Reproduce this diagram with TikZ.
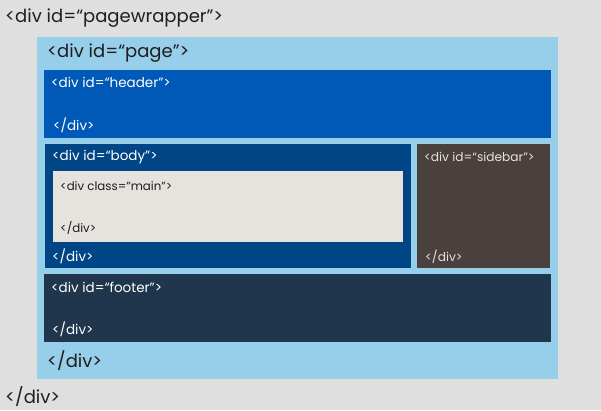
\documentclass[tikz,border=0pt]{standalone}
\usepackage{fontspec}
\setmainfont{Poppins}
\definecolor{bgc}{HTML}{DFDFDF}
\definecolor{pagec}{HTML}{97CFEA}
\definecolor{headc}{HTML}{0059B7}
\definecolor{bodyc}{HTML}{004586}
\definecolor{mainc}{HTML}{E6E2DD}
\definecolor{sidec}{HTML}{4A403D}
\definecolor{footc}{HTML}{20364C}
\definecolor{darktxt}{HTML}{1E1E1E}
\begin{document}
\begin{tikzpicture}[x=1pt,y=-1pt,
  bigtxt/.style={anchor=west,inner sep=0pt,font=\fontsize{18}{21}\selectfont,text=darktxt},
  midtxt/.style={anchor=west,inner sep=0pt,font=\fontsize{13.5}{16}\selectfont,text=white},
  smalltxt/.style={anchor=west,inner sep=0pt,font=\fontsize{11.8}{14}\selectfont,text=darktxt},
  sidetxt/.style={anchor=west,inner sep=0pt,font=\fontsize{12.2}{14}\selectfont,text=mainc}]
\fill[bgc] (0,0) rectangle (601,410);
\useasboundingbox (0,0) rectangle (601,410);
\fill[pagec] (37,37) rectangle (558,379);
\fill[headc] (44,70) rectangle (551,138);
\fill[bodyc] (45,144) rectangle (411,268);
\fill[mainc] (53,171) rectangle (403,242);
\fill[sidec] (417,144) rectangle (550,268);
\fill[footc] (44,274) rectangle (551,342);
\node[bigtxt] (wrapopen) at (5,18) {<div id=“pagewrapper”>};
\node[bigtxt] (wrapclose) at (5,397) {</div>};
\node[bigtxt] (pageopen) at (47,53) {<div id=“page”>};
\node[bigtxt] (pageclose) at (47,361) {</div>};
\node[midtxt] (headopen) at (51,82) {<div id=“header”>};
\node[midtxt] (headclose) at (53,125) {</div>};
\node[midtxt] (bodyopen) at (52,157) {<div id=“body”>};
\node[midtxt] (bodyclose) at (52,256) {</div>};
\node[smalltxt] (mainopen) at (60,186) {<div class="main">};
\node[smalltxt] (mainclose) at (60,228) {</div>};
\node[sidetxt] (sideopen) at (424,157) {<div id=“sidebar”>};
\node[sidetxt] (sideclose) at (425,257) {</div>};
\node[midtxt] (footopen) at (51,287) {<div id=“footer”>};
\node[midtxt] (footclose) at (52,329) {</div>};
\end{tikzpicture}
\end{document}
